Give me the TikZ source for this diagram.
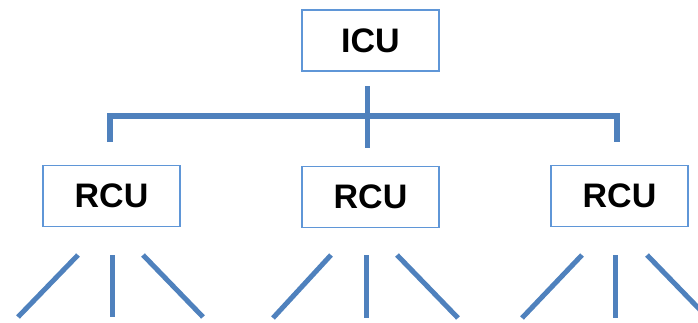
\documentclass[tikz,border=0pt]{standalone}
\usepackage{fontspec}
\setmainfont{Liberation Sans}
\definecolor{linkblue}{RGB}{79,129,189}
\definecolor{boxblue}{RGB}{95,150,215}
\tikzset{
  unitbox/.style={draw=boxblue, line width=1.8pt, fill=white, minimum width=137pt, minimum height=61pt, inner sep=0pt, font=\fontsize{34}{40}\selectfont\bfseries},
  bus/.style={draw=linkblue, line width=5.5pt, line join=miter},
  leaf/.style={draw=linkblue, line width=5pt}
}
\begin{document}
\begin{tikzpicture}[x=1pt,y=-1pt]
\useasboundingbox (0,0) rectangle (698,322);
\clip (0,0) rectangle (698,322);
\node[unitbox] (icu) at (370.5,40.5) {ICU};
\node[unitbox] (r1) at (111.5,196) {RCU};
\node[unitbox] (r2) at (370.5,197) {RCU};
\node[unitbox] (r3) at (619.5,196) {RCU};
% bus
\coordinate (busTop) at (367,86);
\coordinate (busBot) at (367,148);
\coordinate (busL) at (110,116);
\coordinate (busR) at (617,116);
\coordinate (dropL) at (110,142);
\coordinate (dropR) at (617,142);
\draw[bus] (dropL) -- (busL) -- (busR) -- (dropR);
\draw[bus, line width=5pt] (busTop) -- (busBot);
% leaves under r1
\coordinate (a1) at (78,255);  \coordinate (a1e) at (18,317);
\coordinate (a2) at (112,255); \coordinate (a2e) at (112,317);
\coordinate (a3) at (143,255); \coordinate (a3e) at (203,317);
\draw[leaf] (a1) -- (a1e);
\draw[leaf] (a2) -- (a2e);
\draw[leaf] (a3) -- (a3e);
% leaves under r2
\coordinate (b1) at (331,255); \coordinate (b1e) at (273,318);
\coordinate (b2) at (366,255); \coordinate (b2e) at (366,318);
\coordinate (b3) at (397,255); \coordinate (b3e) at (458,318);
\draw[leaf] (b1) -- (b1e);
\draw[leaf] (b2) -- (b2e);
\draw[leaf] (b3) -- (b3e);
% leaves under r3
\coordinate (c1) at (582,255); \coordinate (c1e) at (522,318);
\coordinate (c2) at (615,255); \coordinate (c2e) at (615,318);
\coordinate (c3) at (647,255); \coordinate (c3e) at (708,318);
\draw[leaf] (c1) -- (c1e);
\draw[leaf] (c2) -- (c2e);
\draw[leaf] (c3) -- (c3e);
\end{tikzpicture}
\end{document}
